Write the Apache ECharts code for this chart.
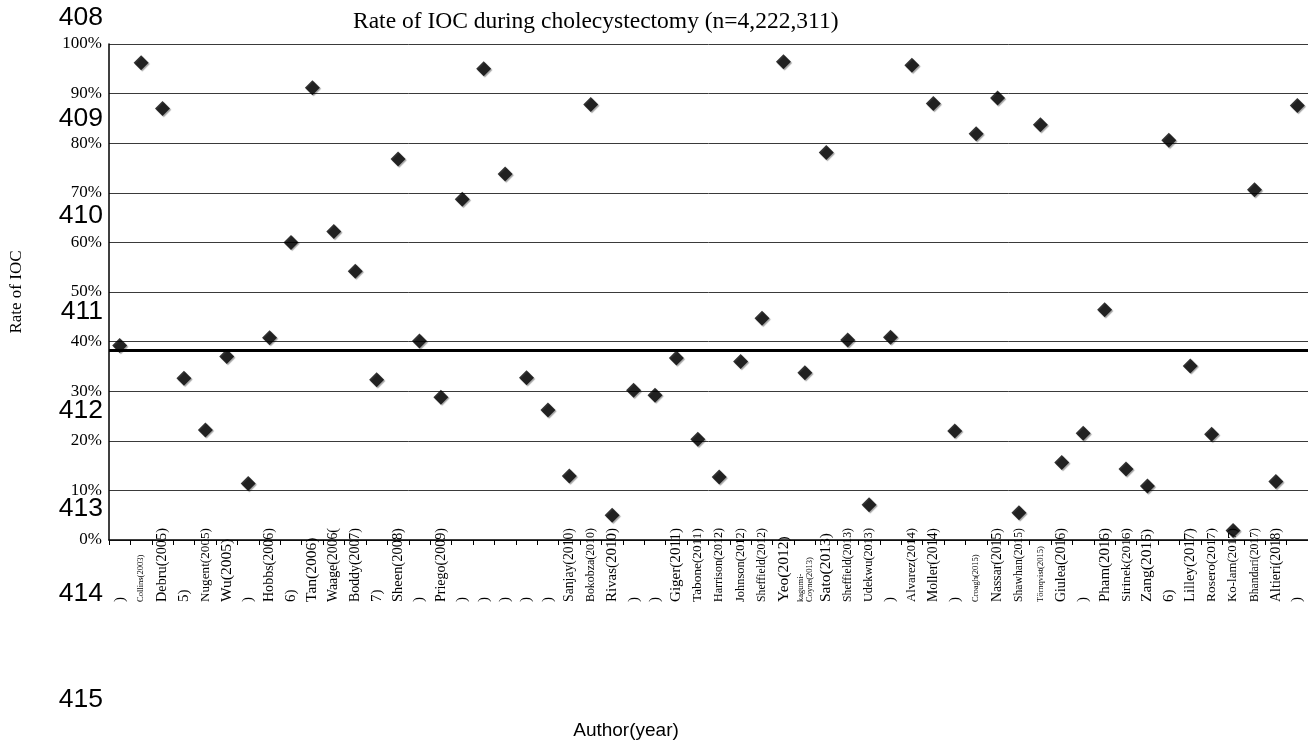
<!DOCTYPE html>
<html>
<head>
<meta charset="utf-8">
<script src="https://cdn.jsdelivr.net/npm/echarts@6/dist/echarts.min.js"></script>
<style>
html,body{margin:0;padding:0;background:#fff;}
#chart{width:1308px;height:755px;}
</style>
</head>
<body>
<div id="chart"></div>
<script>
// ---- data ----
const categories = [
  ")", "Collins(2003)", "Debru(2005)", "5)", "Nugent(2005)", "Wu(2005)", ")", "Hobbs(2006)",
  "6)", "Tan(2006)", "Waage(2006(", "Boddy(2007)", "7)", "Sheen(2008)", ")", "Priego(2009)",
  ")", ")", ")", ")", ")", "Sanjay(2010)", "Bokobza(2010)", "Rivas(2010)",
  ")", ")", "Giger(2011)", "Tabone(2011)", "Harrison(2012)", "Johnson(2012)", "Sheffield(2012)", "Yeo(2012)",
  "kagumi-\nCoyne(2013)", "Sato(2013)", "Sheffield(2013)", "Udekwu(2013)", ")", "Alvarez(2014)", "Moller(2014)", ")",
  "Croagh(2015)", "Nassar(2015)", "Shawhan(2015)", "Törnqvist(2015)", "Giulea(2016)", ")", "Pham(2016)", "Sirinek(2016)",
  "Zang(2016)", "6)", "Lilley(2017)", "Rosero(2017)", "Ko-lam(2017)", "Bhandari(2017)", "Altieri(2018)", ")"
];
const rates = [
  39.2, 96.2, 87.0, 32.6, 22.2, 37.0, 11.4, 40.8,
  60.0, 91.2, 62.2, 54.2, 32.3, 76.8, 40.1, 28.8,
  68.7, 95.0, 73.8, 32.7, 26.2, 12.9, 87.8, 5.0,
  30.2, 29.2, 36.7, 20.3, 12.7, 36.0, 44.7, 96.4,
  33.7, 78.1, 40.3, 7.1, 40.9, 95.7, 88.0, 22.0,
  81.9, 89.1, 5.5, 83.7, 15.6, 21.5, 46.4, 14.3,
  10.9, 80.6, 35.1, 21.3, 1.9, 70.6, 11.8, 87.6
];
const averageRate = 38.3;
const yMin = 0, yMax = 100, yStep = 10;
const titleText = "Rate of IOC during cholecystectomy (n=4,222,311)";
const yName = "Rate of IOC";
const xName = "Author(year)";
const lineNumbers = ["408", "409", "410", "411", "412", "413", "414", "415"];

// ---- styling helpers ----
const serif = '"Liberation Serif", "Times New Roman", serif';
const smallLabelIdx = new Set([1, 32, 40, 43]);
const meas = document.createElement('canvas').getContext('2d');
meas.font = '100px "Liberation Serif"';
function labelSize(text, i) {
  if (smallLabelIdx.has(i)) return 8.5;
  if (text.length <= 2) return 15;
  const w = meas.measureText(text).width / 100;
  return Math.min(15.5, 74 / w);
}
const xData = categories.map((c, i) => ({
  value: c,
  textStyle: { fontSize: labelSize(c, i) }
}));

const lineNumY = [18, 119, 216, 312, 411, 509, 594, 700];
const graphics = lineNumbers.map((t, i) => ({
  type: 'text', x: 103, y: lineNumY[i],
  style: { text: t, fontSize: 26.5, fontFamily: '"Liberation Sans", Arial, sans-serif', fill: '#000',
           textAlign: 'right', textVerticalAlign: 'middle' }
}));
graphics.push({
  type: 'text', x: 626, y: 731,
  style: { text: xName, fontSize: 19, fontFamily: '"Liberation Sans", Arial, sans-serif', fill: '#000',
           textAlign: 'center', textVerticalAlign: 'middle' }
});

const chart = echarts.init(document.getElementById('chart'), null, { renderer: 'canvas' });
chart.setOption({
  animation: false,
  backgroundColor: '#fff',
  title: {
    text: titleText, left: 348, top: 5,
    textStyle: { fontFamily: serif, fontSize: 23.5, fontWeight: 'normal', color: '#000' }
  },
  grid: { left: 104, top: 44, width: 1206, height: 496, containLabel: false },
  xAxis: {
    type: 'category',
    data: xData,
    boundaryGap: true,
    axisLine: { show: true, lineStyle: { color: '#000', width: 1.5 } },
    axisTick: { show: true, length: 5, interval: 0, lineStyle: { color: '#000', width: 1 } },
    axisLabel: {
      interval: 0, rotate: 90, margin: 0,
      fontFamily: serif, color: '#000', hideOverlap: false,
      formatter: function (v) {
        return v.split('\n').map(s => '{t|' + s + '}').join('\n');
      },
      rich: { t: { width: 62, align: 'left' } }
    },
    splitLine: { show: false }
  },
  yAxis: {
    type: 'value', min: yMin, max: yMax, interval: yStep,
    name: yName, nameLocation: 'middle', nameGap: 84, nameRotate: 90,
    nameTextStyle: { fontFamily: serif, fontSize: 17, color: '#000' },
    axisLine: { show: true, lineStyle: { color: '#000', width: 1.5 } },
    axisTick: { show: false },
    axisLabel: { formatter: '{value}%', fontFamily: serif, fontSize: 17, color: '#000', margin: 7 },
    splitLine: { show: true, lineStyle: { color: '#3a3a3a', width: 1 } }
  },
  series: [{
    type: 'scatter',
    data: rates,
    symbol: 'diamond',
    symbolSize: 15,
    itemStyle: { color: '#000', shadowColor: 'rgba(0,0,0,0.45)', shadowOffsetX: 1.2, shadowOffsetY: 1.2, shadowBlur: 1 },
    markLine: {
      silent: true, symbol: ['none', 'none'],
      label: { show: false },
      lineStyle: { color: '#000', width: 3, type: 'solid' },
      data: [{ yAxis: averageRate }]
    },
    z: 3
  }],
  graphic: graphics
});
</script>
</body>
</html>
